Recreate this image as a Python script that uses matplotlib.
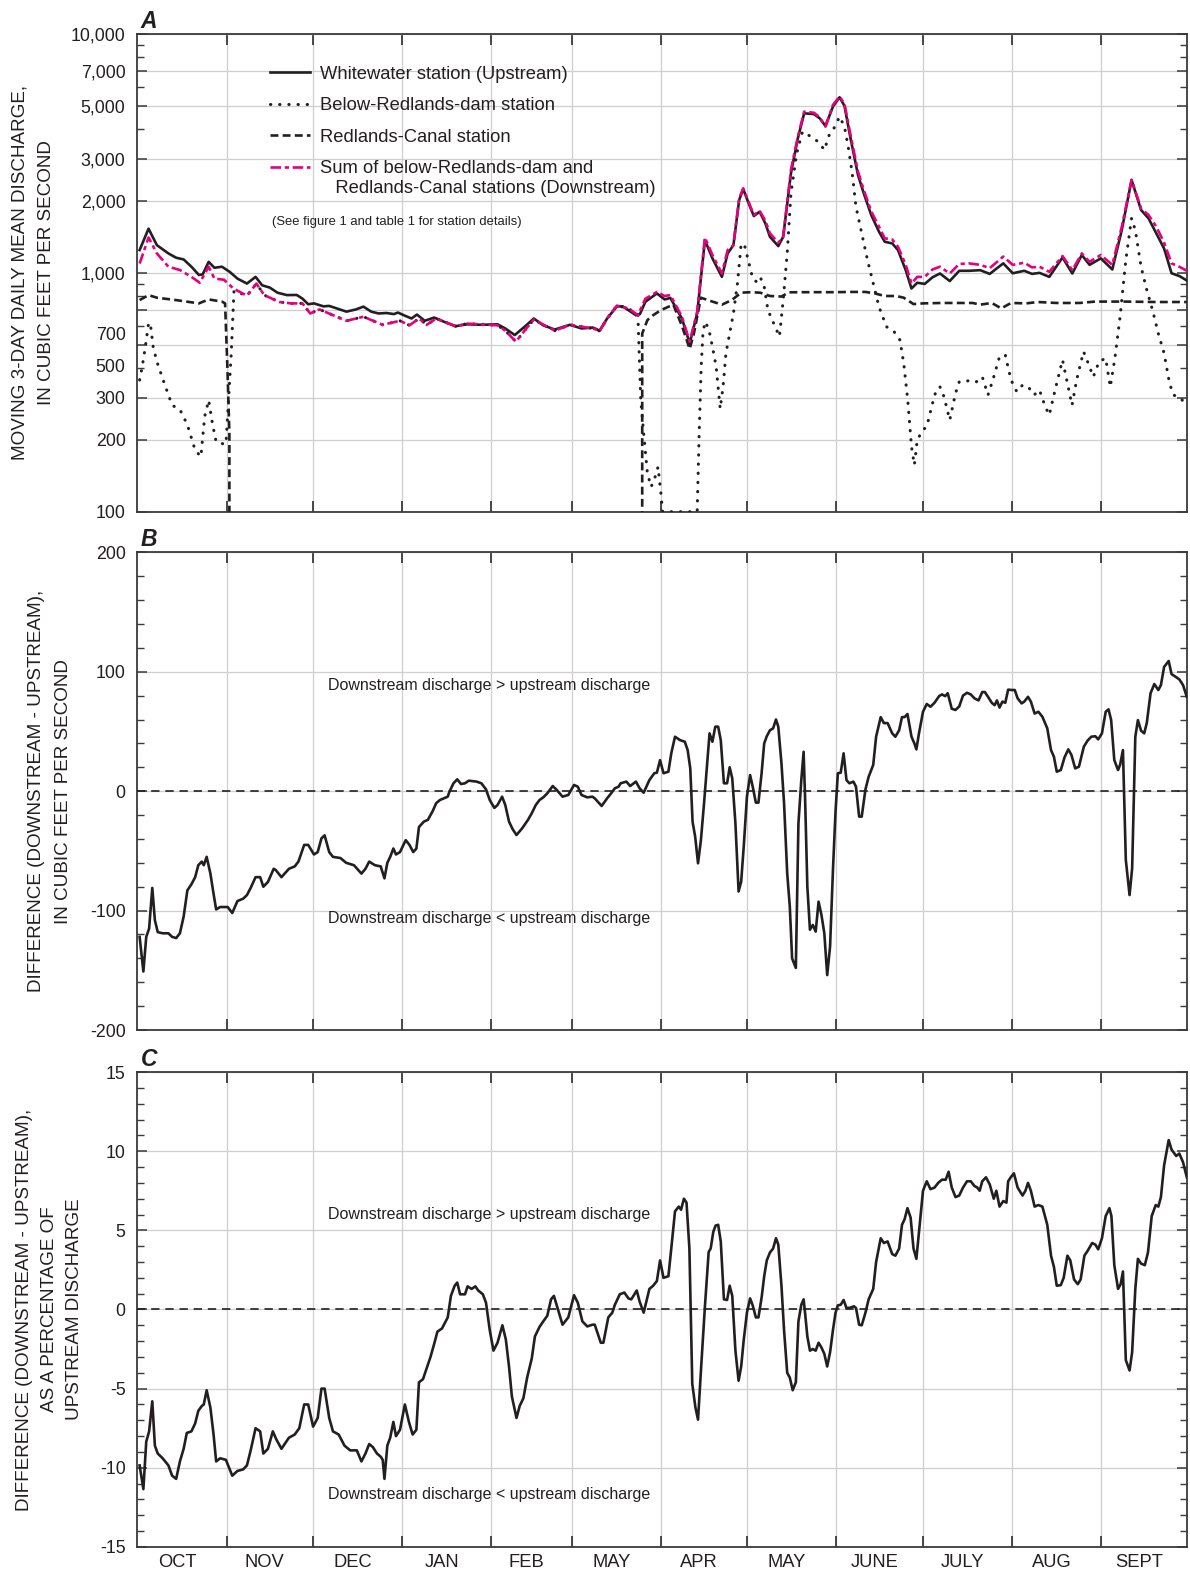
import matplotlib
matplotlib.use("Agg")
import matplotlib.pyplot as plt
import numpy as np
from matplotlib.ticker import FixedLocator, FuncFormatter, NullFormatter, MultipleLocator

plt.rcParams['font.family'] = ['Liberation Sans', 'DejaVu Sans']
plt.rcParams['axes.unicode_minus'] = False

# ---------------- data ----------------
month_names = ['OCT', 'NOV', 'DEC', 'JAN', 'FEB', 'MAY', 'APR', 'MAY', 'JUNE', 'JULY', 'AUG', 'SEPT']
month_days = [31, 30, 31, 31, 28, 31, 30, 31, 30, 31, 31, 30]

# Panel A (day of water year, discharge cfs)
up_day = [0.8, 3.9, 6.8, 10.8, 13.5, 16.1, 18.8, 21.4, 22.7, 24.8, 26.8, 29.4, 32.1, 34.8, 38.1, 41.1,
          43.4, 46.1, 48.7, 52.0, 55.4, 57.4, 59.4, 61.4, 64.7, 66.7, 69.3, 72.7, 76.0, 78.6, 81.3,
          83.9, 86.6, 89.2, 90.6, 92.6, 95.3, 97.2, 99.9, 103.2, 106.6, 110.6, 114.6, 119.9, 125.2,
          127.9, 131.2, 135.2, 137.8, 141.1, 145.1, 150.4, 154.4, 158.4, 160.7, 163.3, 166.7, 168.7,
          170.7, 173.3, 174.7, 176.6, 180.6, 183.3, 185.3, 189.3, 192.0, 194.6, 197.3, 199.9, 203.2,
          205.2, 207.2, 209.2, 210.6, 212.6, 214.3, 216.3, 218.3, 219.9, 222.8, 224.5, 227.2, 229.6,
          231.8, 235.2, 237.2, 239.2, 241.8, 244.1, 245.8, 247.8, 250.5, 252.5, 255.1, 257.8, 259.8,
          262.4, 264.4, 267.1, 269.1, 271.1, 273.7, 276.4, 279.0, 282.4, 285.7, 289.0, 293.0, 296.3,
          301.0, 304.3, 308.3, 311.0, 313.6, 317.0, 321.6, 325.0, 328.3, 331.0, 334.9, 338.9, 342.2,
          345.6, 348.9, 351.5, 354.2, 356.9, 359.5, 362.2, 364.8]
up_val = [1246, 1531, 1306, 1206, 1157, 1138, 1061, 980, 985, 1112, 1050, 1061, 1010, 946, 902, 962,
          887, 867, 826, 807, 808, 780, 739, 745, 724, 727, 710, 688, 703, 722, 688,
          676, 679, 672, 682, 665, 644, 669, 630, 650, 624, 598, 609, 606, 609,
          585, 549, 603, 644, 603, 579, 606, 585, 590, 573, 644, 724, 724,
          698, 665, 672, 757, 820, 774, 785, 644, 507, 676, 1371, 1150, 962,
          1206, 1306, 2018, 2244, 1941, 1729, 1803, 1611, 1416, 1294, 1416, 2611, 3659,
          4655, 4620, 4436, 4121, 4966, 5433, 5002, 3715, 2570, 2154, 1747, 1487, 1350,
          1328, 1246, 1026, 860, 909, 899, 958, 994, 924, 1020, 1020, 1026, 990,
          1096, 996, 1020, 990, 1000, 962, 1160, 994, 1188, 1080, 1150, 1033, 1511,
          2449, 1833, 1691, 1463, 1265, 996, 970, 929]

sum_day = [0.8, 3.9, 6.8, 10.8, 14.8, 18.8, 21.7, 24.8, 26.8, 30.1, 33.4, 38.1, 41.4, 44.1, 49.4, 53.4,
           57.4, 60.1, 63.3, 68.0, 72.7, 78.6, 85.3, 91.3, 94.6, 97.9, 100.6, 103.9, 110.6, 114.6,
           125.2, 127.9, 131.6, 135.2, 137.8, 145.1, 150.4, 158.4, 160.7, 163.3, 166.7, 170.7, 174.0,
           176.6, 180.6, 183.3, 185.3, 189.3, 192.0, 194.6, 197.3, 199.9, 203.2, 205.2, 207.2, 209.2,
           210.6, 212.6, 214.3, 216.3, 218.3, 219.9, 222.8, 224.5, 227.2, 229.6, 231.8, 235.2, 237.2,
           239.2, 241.8, 244.1, 245.8, 247.8, 250.5, 252.5, 255.1, 257.8, 259.8, 262.4, 264.4, 267.1,
           269.1, 271.1, 273.7, 276.4, 279.0, 282.4, 285.7, 289.0, 293.0, 296.3, 301.0, 304.3, 308.3,
           311.0, 313.6, 317.0, 321.6, 325.0, 328.3, 331.0, 334.9, 338.9, 342.2, 345.6, 348.9, 351.5,
           354.2, 356.9, 359.5, 362.2, 364.8]
sum_val = [1094, 1406, 1206, 1061, 1028, 962, 909, 1061, 946, 936, 860, 802, 902, 807, 755, 745,
           745, 676, 703, 665, 630, 655, 606, 630, 603, 644, 606, 644, 598, 613,
           603, 573, 515, 585, 637, 573, 606, 585, 571, 644, 729, 710, 665,
           779, 832, 800, 807, 655, 515, 688, 1406, 1188, 994, 1246, 1306, 2051,
           2258, 1966, 1746, 1820, 1653, 1463, 1336, 1416, 2697, 3718, 4730, 4680, 4480,
           4094, 5047, 5475, 5100, 3837, 2655, 2224, 1810, 1560, 1394, 1380, 1286, 1080,
           902, 962, 962, 1033, 1061, 994, 1089, 1096, 1080, 1047, 1170, 1080, 1103,
           1054, 1061, 1010, 1176, 1026, 1206, 1112, 1188, 1080, 1560, 2449, 1860, 1746,
           1560, 1338, 1096, 1061, 1020]

canal_day = [0.8, 3.9, 6.8, 13.5, 21.4, 24.8, 29.4, 30.5, 31.3, 32.0, 32.8, 174.4, 175.5, 177.3,
             179.3, 182.0, 184.6, 186.3, 189.3, 192.0, 193.5, 195.9, 199.9, 203.2, 206.6, 209.9,
             213.2, 216.5, 219.9, 223.9, 226.5, 231.8, 237.2, 242.5, 247.8, 253.1, 256.4, 259.8,
             263.8, 266.4, 269.8, 273.1, 279.7, 285.0, 290.4, 293.0, 297.0, 300.3, 303.7, 309.0,
             313.0, 319.6, 327.6, 332.9, 343.6, 354.2, 364.8]
canal_val = [769, 807, 787, 769, 745, 774, 758, 745, 405, 213, 0, 0, 557, 634,
             665, 698, 721, 736, 600, 480, 560, 787, 758, 736, 769, 826,
             830, 826, 800, 796, 829, 830, 830, 830, 832, 832, 820, 800,
             800, 787, 740, 745, 748, 748, 748, 736, 748, 710, 748, 745,
             755, 748, 748, 758, 758, 755, 755]

dam_day = [0.8, 1.7, 2.8, 3.9, 4.5, 5.5, 6.8, 9.4, 12.1, 14.8, 17.4, 20.1, 22.1, 23.4, 24.8, 26.1,
           27.4, 30.1, 30.8, 32.6, 33.6, 38.1, 41.4, 44.1, 49.4, 53.4, 57.4, 60.1, 63.3, 68.0, 72.7,
           78.6, 85.3, 91.3, 94.6, 97.9, 100.6, 103.9, 110.6, 114.6, 125.2, 127.9, 131.6, 135.2,
           137.8, 145.1, 150.4, 158.4, 160.7, 163.3, 166.7, 170.7, 174.0, 175.0, 176.0, 177.3, 178.6,
           180.0, 181.0, 182.0, 182.6, 194.6, 195.3, 196.0, 196.6, 197.3, 198.6, 199.9, 201.2, 202.6,
           203.6, 204.6, 205.9, 207.2, 208.6, 209.9, 211.2, 212.6, 213.9, 215.2, 216.5, 217.9, 219.2,
           221.2, 223.2, 224.5, 225.9, 227.2, 229.2, 231.2, 233.2, 235.2, 237.2, 238.8, 240.5, 242.5,
           244.1, 245.8, 247.1, 248.5, 249.8, 251.8, 253.8, 255.8, 257.8, 260.4, 263.1, 265.1, 266.4,
           267.8, 269.1, 270.1, 271.1, 273.1, 274.4, 276.4, 277.7, 279.0, 280.4, 282.4, 284.4, 285.7,
           287.7, 289.7, 291.7, 293.7, 295.7, 297.7, 299.7, 301.7, 303.7, 305.7, 307.7, 309.7, 311.7,
           313.6, 315.6, 317.0, 319.0, 321.6, 323.3, 324.9, 326.5, 328.9, 330.3, 332.3, 334.3, 336.6,
           338.2, 339.8, 341.6, 343.6, 345.6, 346.9, 348.9, 350.9, 352.9, 354.9, 356.9, 358.8, 360.2,
           362.8, 364.8]
dam_val = [356, 405, 491, 614, 617, 491, 425, 344, 279, 268, 231, 181, 170, 250, 293, 234,
           196, 192, 192, 450, 840, 802, 902, 807, 755, 745, 745, 676, 703, 665, 630,
           655, 606, 630, 603, 644, 606, 644, 598, 613, 603, 573, 515, 585,
           637, 573, 606, 585, 571, 644, 729, 710, 665, 293, 213, 145, 127,
           140, 154, 119, 100, 100, 213, 405, 557, 624, 585, 491, 405, 270,
           333, 461, 557, 676, 903, 1328, 1285, 1096, 948, 918, 962, 875, 698,
           614, 541, 769, 1207, 2154, 3164, 3899, 3777, 3659, 3485, 3268, 3777, 4093,
           4510, 4093, 3375, 2610, 1892, 1463, 1132, 903, 721, 595, 566, 523, 418,
           293, 187, 157, 200, 220, 227, 284, 323, 333, 303, 242, 313, 350,
           350, 356, 350, 367, 308, 367, 446, 453, 356, 318, 339, 333, 308,
           323, 275, 254, 323, 432, 344, 279, 356, 468, 425, 367, 425, 439,
           333, 439, 654, 1132, 1691, 1510, 1061, 847, 698, 557, 461, 344, 308,
           298, 275]

# Panel B: downstream - upstream (cfs)
diff_day = [0.8, 2.1, 3.1, 4.1, 5.2, 6.1, 7.1, 8.8, 10.8, 12.1, 13.5, 14.8, 16.1, 17.4, 18.8, 20.1,
            21.2, 22.4, 23.1, 24.1, 25.4, 26.5, 27.4, 28.8, 31.4, 33.0, 34.8, 36.8, 38.1, 39.4, 41.1,
            42.7, 43.8, 45.4, 47.4, 48.1, 50.1, 52.7, 54.7, 56.0, 58.0, 59.4, 61.4, 62.7, 64.0, 65.1,
            66.7, 68.0, 70.6, 72.6, 75.3, 77.9, 79.3, 80.6, 82.6, 84.6, 85.9, 86.9, 87.9, 89.0, 89.9,
            91.3, 93.3, 94.6, 95.9, 97.0, 97.9, 99.6, 101.0, 102.6, 103.9, 105.2, 107.9, 108.5, 109.9,
            111.2, 112.5, 113.9, 115.2, 117.9, 119.6, 121.2, 122.5, 124.1, 125.2, 126.8, 127.9, 129.2,
            130.5, 131.8, 133.8, 135.8, 137.1, 138.5, 139.8, 141.1, 142.5, 144.4, 145.8, 147.8, 149.8,
            151.8, 153.1, 154.4, 156.4, 158.2, 159.0, 161.4, 163.3, 164.7, 166.0, 167.3, 168.0, 170.0,
            171.3, 173.3, 174.6, 176.0, 178.0, 179.7, 180.6, 181.7, 182.9, 184.6, 185.6, 186.9, 188.6,
            190.3, 191.3, 192.2, 193.0, 193.9, 194.9, 195.9, 197.0, 197.9, 198.9, 199.9, 200.9, 201.9,
            202.8, 203.9, 205.0, 205.9, 206.8, 207.9, 209.0, 209.9, 210.8, 211.9, 213.0, 213.9, 215.0,
            215.9, 217.0, 217.9, 218.8, 219.9, 221.0, 222.0, 222.8, 223.9, 224.8, 225.9, 226.8, 227.6,
            228.9, 229.8, 230.8, 231.6, 232.1, 232.9, 233.8, 234.8, 235.8, 236.8, 237.8, 238.8, 239.8,
            240.8, 241.8, 242.7, 243.5, 244.5, 245.5, 246.5, 247.5, 248.9, 249.8, 250.9, 251.8, 253.1,
            254.2, 255.8, 256.8, 258.4, 259.5, 260.8, 262.4, 263.5, 264.8, 265.8, 266.7, 267.7, 269.1,
            270.1, 270.8, 271.7, 273.1, 274.4, 275.7, 277.1, 278.7, 279.7, 280.8, 281.7, 283.1, 284.4,
            285.7, 287.0, 288.4, 289.7, 291.0, 292.4, 293.7, 294.6, 295.7, 297.0, 298.0, 298.8, 299.7,
            300.7, 301.7, 302.7, 304.0, 305.0, 306.0, 307.4, 308.3, 309.6, 310.6, 311.9, 313.2, 314.6,
            316.3, 317.6, 318.6, 319.6, 321.0, 322.3, 323.6, 324.7, 326.0, 327.3, 329.0, 330.3, 331.6,
            333.0, 334.0, 335.3, 336.6, 337.6, 338.5, 339.6, 340.9, 341.6, 342.6, 343.6, 344.9, 345.8,
            346.9, 347.8, 348.9, 350.0, 350.9, 352.2, 353.5, 354.9, 355.8, 356.9, 358.5, 359.5, 360.9,
            362.2, 363.5, 364.8]
diff_val = [-122, -151, -122, -115, -81, -108, -118, -119, -119, -122, -123, -119, -105, -83, -78, -72,
            -62, -59, -62, -55, -69, -86, -99, -97, -97, -102, -92, -90, -87, -81, -72,
            -72, -80, -76, -65, -66, -72, -65, -63, -59, -45, -45, -53, -51, -39.5, -37,
            -51, -55, -56, -60, -62, -69, -65, -59, -62, -63, -73, -60, -55, -48, -53,
            -51, -41, -45, -51, -48, -30, -25.5, -24, -17, -10, -7.4, -4.6, -0.4, 6.6,
            9.9, 6.0, 6.6, 8.8, 8.0, 6.6, 1.5, -7.4, -14, -11.6, -4.6, -11.6, -25.5,
            -32, -36.7, -31, -24, -18.5, -11.6, -7.4, -5.2, -1.8, 4.3, 1.0, -4.6, -3.2,
            5.2, 3.8, -3.2, -5.2, -4.6, -6, -12.4, -6, -1.8, 2.4, 3.8, 6.6, 8.0,
            4.3, 8.0, 2.4, -1.3, 9.3, 15, 15.5, 26, 15, 16.3, 31.7, 45.6, 42.8,
            41.4, 34.4, 19.1, -25.5, -38, -60.4, -41, -10, 17.7, 48.4, 41.4, 54, 54,
            42.8, 6.6, 6.6, 20, 10.7, -27, -84, -75.7, -46, -4.6, 13.5, 3.8, -9.6,
            -9.6, 15, 40, 46, 51, 52.6, 60, 54, 23.3, -10, -68.8, -96.6, -140,
            -148, -27, 9.3, 33, -4.6, -80, -116, -112, -117.6, -92.5, -103.6, -119, -154,
            -130, -66, -17, 15, 15.5, 31.7, 9.3, 6.6, 8.0, 3.8, -21.3, -21.3, 1.5,
            12, 22, 45.6, 62, 57, 57, 48.4, 45.6, 51, 62, 62, 64.6, 45.6,
            40, 35, 48.4, 66.5, 73, 70.7, 74, 79.6, 81, 79.6, 82, 69, 68,
            71, 80, 82.4, 81, 77.7, 76, 83, 83, 79, 74, 72, 76, 70,
            75, 74, 85, 84.7, 84.7, 77.7, 73.5, 75, 79, 75, 65, 66.5, 62.3,
            52.6, 34.4, 28.9, 16.3, 17.7, 28.3, 35, 30.3, 19.1, 20.5, 37.2, 42.3, 45.6,
            46, 43.4, 48.4, 66.5, 68.5, 59.5, 26, 17.7, 22, 34.4, -57.6, -87, -64.6,
            45.6, 59.5, 50.6, 48.4, 57.3, 82, 89.7, 84.7, 88.8, 104, 109, 98, 95.8,
            93.6, 88.8, 79]

# Panel C: difference as percentage of upstream discharge
pct_day = [0.8, 2.1, 3.1, 4.1, 5.2, 6.1, 7.1, 8.8, 10.8, 12.1, 13.5, 14.8, 16.1, 17.2, 18.8, 20.1,
           21.2, 22.4, 23.1, 24.1, 25.4, 26.5, 27.4, 28.8, 30.8, 33.0, 34.8, 36.8, 38.1, 39.4, 41.1,
           42.7, 43.8, 45.4, 47.1, 48.3, 50.1, 52.7, 54.7, 56.3, 58.0, 59.4, 61.1, 62.7, 64.0, 65.1,
           66.7, 68.0, 70.0, 72.0, 74.0, 76.3, 77.9, 79.3, 80.6, 81.9, 83.3, 84.6, 85.3, 85.9, 86.9,
           87.9, 89.0, 89.9, 91.3, 93.0, 94.4, 95.7, 97.0, 97.9, 99.3, 100.6, 101.9, 103.3, 104.3,
           105.9, 107.9, 109.0, 110.3, 111.2, 112.2, 113.9, 114.8, 116.2, 117.5, 118.5, 120.1, 121.2,
           122.5, 123.8, 125.2, 126.9, 128.1, 129.2, 130.2, 131.8, 132.9, 134.2, 135.5, 137.1, 138.2,
           139.8, 141.1, 142.5, 143.8, 144.8, 146.2, 147.8, 149.8, 151.8, 153.1, 154.7, 156.4, 158.2,
           159.0, 161.1, 162.0, 163.7, 165.1, 166.0, 167.7, 169.3, 170.7, 171.7, 173.6, 174.6, 176.0,
           178.0, 179.3, 180.6, 181.7, 182.9, 184.6, 185.6, 186.9, 188.2, 189.0, 190.0, 190.9, 191.9,
           192.9, 194.0, 194.9, 196.0, 197.3, 198.6, 199.3, 200.2, 201.0, 201.9, 202.8, 203.9, 205.0,
           205.9, 206.8, 207.9, 209.0, 209.9, 210.8, 211.9, 213.0, 213.9, 215.0, 215.9, 217.0, 217.9,
           218.8, 219.9, 221.0, 222.0, 222.8, 223.9, 224.8, 225.9, 226.8, 227.8, 228.9, 229.8, 230.8,
           231.6, 232.1, 232.9, 233.8, 234.8, 235.8, 236.8, 237.8, 238.8, 239.8, 240.8, 241.8, 242.7,
           243.5, 244.5, 245.5, 246.5, 247.5, 249.1, 249.8, 250.9, 251.8, 253.1, 254.2, 255.8, 256.8,
           258.4, 259.5, 260.8, 262.4, 263.5, 264.8, 265.8, 266.7, 267.7, 268.8, 269.8, 270.8, 271.7,
           273.1, 274.4, 275.7, 277.1, 278.4, 279.7, 281.0, 282.0, 283.1, 284.4, 285.7, 287.0, 288.4,
           289.7, 291.0, 292.0, 292.8, 293.7, 295.0, 296.3, 297.7, 298.6, 299.7, 301.0, 302.1, 302.7,
           303.6, 304.7, 306.0, 307.7, 308.7, 309.6, 310.6, 311.9, 313.2, 314.6, 316.3, 317.6, 318.6,
           319.6, 321.0, 322.0, 323.3, 324.3, 325.6, 326.9, 327.9, 329.2, 330.3, 331.9, 333.0, 334.0,
           335.3, 336.6, 337.9, 338.6, 339.6, 340.9, 341.8, 342.6, 343.6, 344.9, 345.8, 346.9, 347.8,
           348.9, 350.2, 351.3, 352.6, 354.0, 354.9, 355.8, 356.9, 358.5, 359.5, 361.1, 362.2, 363.5,
           364.8]
pct_val = [-9.85, -11.35, -8.35, -7.7, -5.8, -8.6, -9.1, -9.4, -9.85, -10.5, -10.7, -9.6, -8.8, -7.8, -7.7, -7.2,
           -6.4, -6.1, -6.0, -5.1, -6.2, -7.9, -9.6, -9.4, -9.5, -10.5, -10.2, -10.1, -9.85, -8.9, -7.5,
           -7.7, -9.1, -8.8, -7.7, -8.2, -8.8, -8.1, -7.9, -7.5, -6.0, -6.0, -7.4, -6.85, -5.0, -5.0,
           -6.85, -7.7, -7.9, -8.6, -8.9, -8.9, -9.6, -9.1, -8.5, -8.7, -9.1, -9.3, -9.5, -10.7, -8.6,
           -8.1, -7.1, -8.0, -7.6, -6.0, -7.1, -7.9, -7.6, -4.6, -4.4, -3.7, -3.0, -2.1, -1.4,
           -1.2, -0.5, 0.86, 1.5, 1.7, 0.96, 0.96, 1.46, 1.3, 1.46, 1.2, 0.96, 0.43,
           -1.3, -2.6, -2.1, -1.0, -1.9, -3.6, -5.5, -6.85, -6.1, -5.6, -4.3, -3.1, -1.7,
           -1.1, -0.75, -0.4, 0.64, 0.86, 0.0, -0.96, -0.5, 0.9, 0.43, -0.75, -1.07, -0.96,
           -0.96, -2.1, -2.1, -0.5, -0.2, 0.3, 0.96, 1.07, 0.7, 0.64, 1.2, 0.5, -0.2,
           1.3, 1.5, 1.8, 3.1, 2.0, 2.1, 3.85, 6.2, 6.5, 6.3, 7.0, 6.75, 3.85,
           -4.7, -6.2, -6.96, -3.6, 0.2, 3.64, 3.85, 4.9, 5.3, 5.35, 4.3, 0.64, 0.6,
           1.5, 0.86, -2.6, -4.5, -3.6, -1.9, -0.2, 0.7, 0.26, -0.5, -0.5, 0.75, 2.1,
           3.1, 3.6, 3.85, 4.5, 4.1, 1.5, -1.3, -4.0, -4.3, -5.1, -4.6, -0.75, 0.3,
           0.64, -0.2, -1.7, -2.6, -2.5, -2.6, -2.1, -2.4, -2.8, -3.6, -2.7, -1.3, -0.2,
           0.26, 0.3, 0.6, 0.1, 0.1, 0.2, 0.1, -0.96, -1.0, -0.2, 0.64, 1.3, 3.0,
           4.5, 4.2, 4.3, 3.5, 3.4, 3.85, 5.35, 5.7, 6.4, 5.8, 3.85, 3.2, 4.9,
           7.5, 8.1, 7.6, 7.7, 8.0, 8.2, 8.2, 8.7, 7.7, 7.1, 7.2, 7.7, 8.1,
           8.1, 7.8, 7.7, 7.5, 8.1, 8.35, 7.9, 7.0, 7.5, 6.5, 6.85, 6.75, 8.1,
           8.35, 8.6, 7.7, 7.2, 7.5, 8.0, 7.5, 6.5, 6.6, 6.5, 5.35, 3.4, 2.7,
           1.5, 1.54, 2.0, 3.4, 3.1, 1.9, 1.6, 1.9, 3.4, 3.7, 4.2, 4.1, 3.8,
           4.5, 5.9, 6.4, 5.9, 2.8, 1.3, 1.6, 2.4, -3.2, -3.85, -2.7, 1.3, 3.2,
           2.9, 2.8, 3.6, 5.9, 6.6, 6.5, 7.1, 9.1, 10.7, 10.1, 9.7, 9.85, 9.3,
           8.35]

# ---------------- figure ----------------
fig = plt.figure(figsize=(11.9, 15.74), dpi=100)
L, W = 0.1154, 0.8824
axA = fig.add_axes([L, 0.6749, W, 0.3035])
axB = fig.add_axes([L, 0.3456, W, 0.3035])
axC = fig.add_axes([L, 0.0172, W, 0.3017])

bounds = np.concatenate([[0], np.cumsum(month_days)])
centers = (bounds[:-1] + bounds[1:]) / 2.0 - 1.7

INK = '#231f20'
GRID = '#cfcfcf'
TICK_FS = 12.8
LAB_FS = 13.6


def style_axis(ax):
    ax.set_xlim(0, 365)
    ax.set_axisbelow(True)
    for s in ax.spines.values():
        s.set_color('#3a3a3a')
        s.set_linewidth(1.3)
    ax.xaxis.set_major_locator(FixedLocator(bounds[1:-1]))
    ax.xaxis.set_major_formatter(NullFormatter())
    ax.tick_params(axis='both', which='both', direction='in', top=True, right=True,
                   colors='#3a3a3a', labelcolor=INK, labelsize=TICK_FS)
    ax.tick_params(axis='x', which='major', length=8, width=1.3)
    ax.tick_params(axis='y', which='major', length=7, width=1.1, pad=8.5)
    ax.tick_params(axis='y', which='minor', length=5, width=1.0)
    ax.tick_params(axis='x', which='minor', length=0)
    ax.grid(True, which='major', color=GRID, linewidth=0.9)


# ---------- Panel A ----------
axA.plot(dam_day, dam_val, color=INK, lw=2.2, linestyle=(0, (0.1, 2.9)),
         dash_capstyle='round', label='Below-Redlands-dam station', zorder=3)
axA.plot(canal_day, canal_val, color=INK, lw=1.9, linestyle=(0, (3.0, 1.6)),
         label='Redlands-Canal station', zorder=3)
axA.plot(up_day, up_val, color=INK, lw=1.9, label='Whitewater station (Upstream)', zorder=4)
axA.plot(sum_day, sum_val, color='#e6007e', lw=1.9, linestyle=(0, (4.0, 1.4, 1.6, 1.4)),
         label='Sum of below-Redlands-dam and\n   Redlands-Canal stations (Downstream)', zorder=5)
axA.set_yscale('log', nonpositive='clip')
axA.set_ylim(100, 10000)
style_axis(axA)
majA = [100, 200, 300, 500, 700, 1000, 2000, 3000, 5000, 7000, 10000]
minA = [400, 600, 800, 900, 4000, 6000, 8000, 9000]
axA.yaxis.set_major_locator(FixedLocator(majA))
axA.yaxis.set_minor_locator(FixedLocator(minA))
shifted = {700: 18.2, 500: 16.4}
axA.yaxis.set_major_formatter(FuncFormatter(lambda v, p: '' if int(round(v)) in shifted else f'{int(round(v)):,}'))
axA.yaxis.set_minor_formatter(NullFormatter())
for v, off in shifted.items():
    axA.annotate(f'{v:,}', xy=(0, v), xycoords=('axes fraction', 'data'),
                 xytext=(-8.5, -off), textcoords='offset points',
                 ha='right', va='center', fontsize=TICK_FS, color=INK, annotation_clip=False)

handles, labels = axA.get_legend_handles_labels()
order = [2, 0, 1, 3]
leg = axA.legend([handles[i] for i in order], [labels[i] for i in order],
                 loc='upper left', bbox_to_anchor=(0.1264, 0.9336), frameon=False,
                 fontsize=13.2, handlelength=2.2, handletextpad=0.5, labelspacing=0.79,
                 borderpad=0, borderaxespad=0)
for t in leg.get_texts():
    t.set_color(INK)
try:
    rows = leg._legend_handle_box.get_children()[0].get_children()
    rows[3].align = 'top'
except Exception:
    pass
axA.text(0.1283, 0.6065, '(See figure 1 and table 1 for station details)', transform=axA.transAxes,
         fontsize=9.4, color=INK, ha='left', va='center')
axA.set_ylabel('MOVING 3-DAY DAILY MEAN DISCHARGE,\nIN CUBIC FEET PER SECOND',
               fontsize=LAB_FS, color=INK, va='center', linespacing=1.7)
axA.yaxis.set_label_coords(-0.0993, 0.5)

# ---------- Panel B ----------
axB.plot(diff_day, diff_val, color=INK, lw=1.9, zorder=4)
axB.axhline(0, color=INK, lw=1.2, linestyle=(0, (5, 3.5)), zorder=3)
axB.set_ylim(-200, 200)
style_axis(axB)
axB.yaxis.set_major_locator(FixedLocator([-200, -100, 0, 100, 200]))
axB.yaxis.set_minor_locator(MultipleLocator(20))
axB.text(66.4, 88.6, 'Downstream discharge > upstream discharge', fontsize=11.5, color=INK,
         ha='left', va='center')
axB.text(66.4, -106.5, 'Downstream discharge < upstream discharge', fontsize=11.5, color=INK,
         ha='left', va='center')
axB.set_ylabel('DIFFERENCE (DOWNSTREAM - UPSTREAM),\nIN CUBIC FEET PER SECOND',
               fontsize=LAB_FS, color=INK, va='center', linespacing=1.8)
axB.yaxis.set_label_coords(-0.0833, 0.5)

# ---------- Panel C ----------
axC.plot(pct_day, pct_val, color=INK, lw=1.9, zorder=4)
axC.axhline(0, color=INK, lw=1.2, linestyle=(0, (5, 3.5)), zorder=3)
axC.set_ylim(-15, 15)
style_axis(axC)
axC.yaxis.set_major_locator(FixedLocator([-15, -10, -5, 0, 5, 10, 15]))
axC.yaxis.set_minor_locator(MultipleLocator(1))
axC.set_xticks(centers, minor=True)
axC.set_xticklabels(month_names, minor=True, fontsize=13.2, color=INK)
axC.tick_params(axis='x', which='minor', pad=5)
axC.text(66.4, 6.0, 'Downstream discharge > upstream discharge', fontsize=11.5, color=INK,
         ha='left', va='center')
axC.text(66.4, -11.7, 'Downstream discharge < upstream discharge', fontsize=11.5, color=INK,
         ha='left', va='center')
axC.set_ylabel('DIFFERENCE (DOWNSTREAM - UPSTREAM),\nAS A PERCENTAGE OF\nUPSTREAM DISCHARGE',
               fontsize=LAB_FS, color=INK, va='center', linespacing=1.6)
axC.yaxis.set_label_coords(-0.0837, 0.5)

# panel letters
for ax, letter in [(axA, 'A'), (axB, 'B'), (axC, 'C')]:
    ax.text(0.003, 1.0135, letter, transform=ax.transAxes, fontsize=16.5, fontweight='bold',
            fontstyle='italic', color=INK, ha='left', va='baseline')

fig.savefig('out.png', dpi=100)
